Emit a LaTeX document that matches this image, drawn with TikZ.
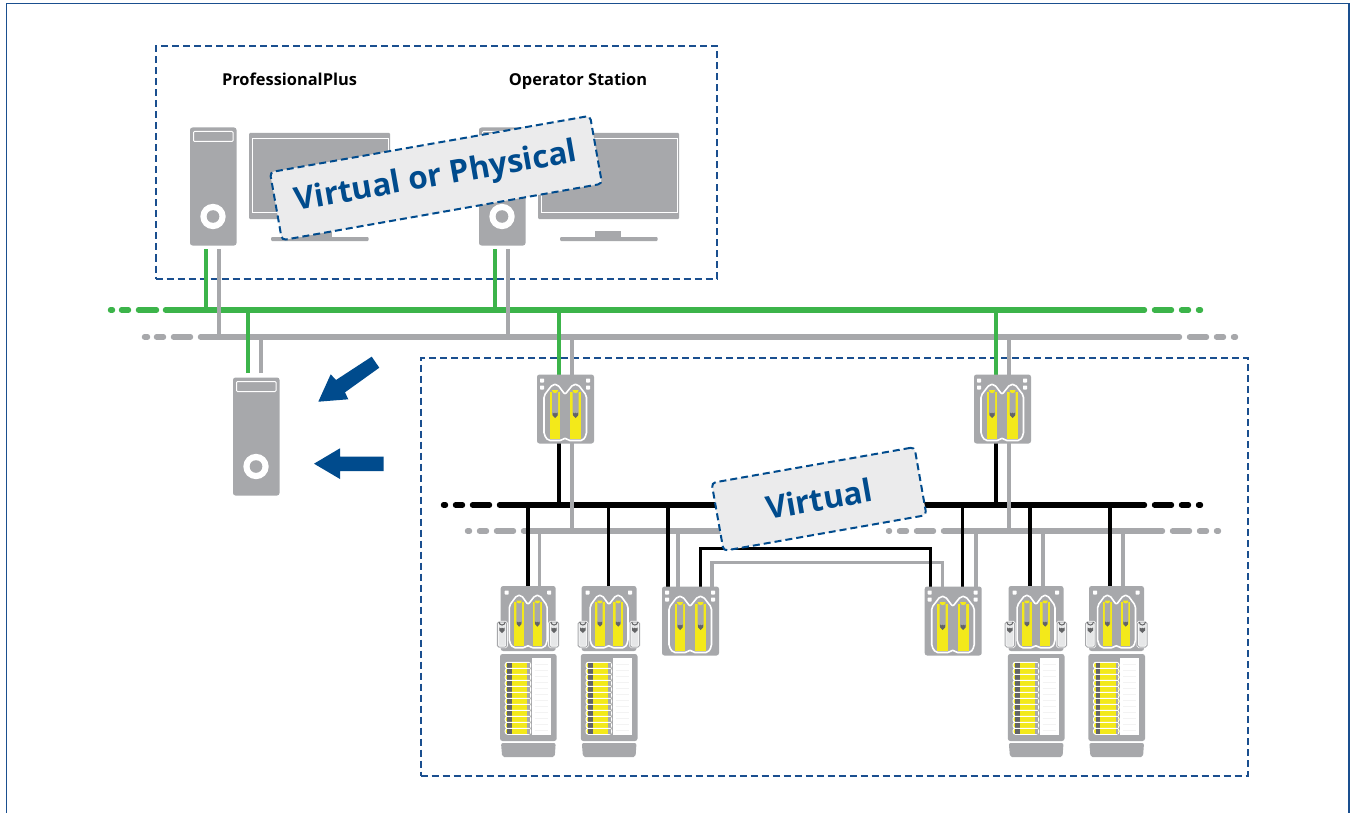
\documentclass[tikz,border=0pt]{standalone}
\usepackage{fontspec}
\setmainfont{Open Sans}
\definecolor{cgrey}{HTML}{A7A8AB}
\definecolor{cgreen}{HTML}{3CB44A}
\definecolor{cyell}{HTML}{F3E91A}
\definecolor{cblue}{HTML}{004B8D}
\definecolor{cframe}{HTML}{1A4F8F}
\definecolor{clabel}{HTML}{EBEBEC}
\definecolor{cdark}{HTML}{636466}
\definecolor{cpale}{HTML}{E6E7E8}
\definecolor{cfaint}{HTML}{F3F3F3}
\newcommand{\mypods}{%
  \draw[white,fill=cgrey,line width=1.6pt,line join=round,rounded corners=2pt]
    (11,66)--(7,60)--(7,21)--(15.5,10)--(20.5,10)--(28,20)--(36,10)--(41,10)--(49.5,21)--(49.5,60)--(46,66)--(31,66)--(28,63)--(25,66)--cycle;
  \foreach \c in {18,38.5}{
    \fill[cyell] (\c-5.3,17)--(\c+5.3,17)--(\c+5.3,64)--(\c-5.3,64)--cycle;
    \fill[cgrey] (\c-3,17)--(\c+3,17)--(\c+3,40)--(\c,43)--(\c-3,40)--cycle;
    \fill[cdark] (\c-2.5,38)--(\c-1,39)--(\c,38.2)--(\c+1,39)--(\c+2.5,38)--(\c+2.5,41)--(\c,43.5)--(\c-2.5,41)--cycle;
    \fill[cyell] (\c-3,15.7) arc[start angle=180,end angle=0,radius=3];
  }%
}
\tikzset{
  x=1pt,y=-1pt,
  devbody/.style={fill=cgrey,rounded corners=2.5pt},
  greenbus/.style={cgreen,line width=5.4pt,line cap=round},
  greybus/.style={cgrey,line width=5.4pt,line cap=round},
  blackbus/.style={black,line width=5.4pt,line cap=round},
  greenline/.style={cgreen,line width=3.4pt},
  greyline/.style={cgrey,line width=3.4pt},
  blackline/.style={black,line width=3.4pt},
  dashbox/.style={cframe,line width=2pt,dash pattern=on 7pt off 4pt},
  tagbox/.style={draw=cblue,fill=clabel,line width=2pt,dash pattern=on 7pt off 4pt,rounded corners=4pt,rotate=10,inner sep=0pt,text=cblue,align=center},
  tagtext/.style={font=\fontsize{31.5}{36}\selectfont\bfseries},
  title/.style={font=\fontsize{16.4}{18}\selectfont\bfseries,text=black,inner sep=0pt,anchor=base},
  tower/.pic={
    \fill[devbody] (0,0) rectangle (46.5,118);
    \draw[white,line width=1pt,rounded corners=1pt] (3.5,4) rectangle (43,14);
    \fill[white] (23,89) circle[radius=12.7];
    \fill[cgrey] (23,89) circle[radius=6.3];
  },
  monitor/.pic={
    \fill[cgrey,rounded corners=1pt] (0,0) rectangle (141,86);
    \draw[white,line width=1pt] (3.5,6) rectangle (139,79);
    \fill[cgrey] (57,98) rectangle (83,104);
    \fill[cgrey,rounded corners=1pt] (22,104) rectangle (119.5,108);
  },
  plaincarrier/.pic={
    \fill[devbody] (0,0) rectangle (57,69);
    \foreach \p in {5,51}\foreach \q in {6,13}
      \fill[white,rounded corners=.6pt] (\p-2,\q-2) rectangle (\p+2,\q+2);
    \mypods
  },
  iostack/.pic={
    \fill[devbody] (0,0) rectangle (55,65);
    \foreach \p in {6,48.5}
      \fill[white,rounded corners=.6pt] (\p-2,4.5) rectangle (\p+2,8.5);
    \begin{scope}[shift={(2.4,0)},xscale=.89,yscale=.935] \mypods \end{scope}
    \foreach \p in {-3.3,48.7}{
      \draw[white,fill=cpale,line width=2.4pt,rounded corners=1.5pt] (\p,36) rectangle (\p+9.3,61);
      \draw[cgrey,line width=1pt,rounded corners=1.5pt] (\p,36) rectangle (\p+9.3,61);
      \draw[cdark,line width=1pt] (\p+1.6,36) arc[start angle=180,end angle=0,radius=3.05];
      \fill[cdark] (\p+2,41.5)--(\p+3.5,42.5)--(\p+4.6,41.7)--(\p+5.7,42.5)--(\p+7.3,41.5)--(\p+7.3,44.5)--(\p+4.6,47)--(\p+2,44.5)--cycle;
    }
    \fill[devbody] (-.7,68) rectangle (56,155);
    \fill[white] (31.3,72) rectangle (50.3,149);
    \foreach \n in {0,...,11}{
      \draw[white,fill=cyell,line width=1pt,rounded corners=2.4pt] (4.5,76.3+\n*6) rectangle (30,82.3+\n*6);
      \fill[cdark] (6.6,77+\n*6) rectangle (11,81.7+\n*6);
      \fill[cyell] (11,77+\n*6) rectangle (26.5,81.7+\n*6);
      \fill[cgrey] (26.5,77+\n*6) rectangle (29.4,81.7+\n*6);
      \draw[cfaint,line width=.5pt] (34,78+\n*6) -- (47,78+\n*6);
    }
    \fill[cgrey,rounded corners=2pt] (.3,157)--(55,157)--(54,171)--(1.5,171)--cycle;
  }
}
\begin{document}
\begin{tikzpicture}
\useasboundingbox (0,0) rectangle (1351,813);
\clip (0,0) rectangle (1351,813);
\fill[white] (0,0) rectangle (1351,813);
\draw[cframe,line width=1.5pt] (6.5,840) -- (6.5,3.5) -- (1349,3.5) -- (1349,840);
% bus reference coordinates
\coordinate (gbus) at (0,310);
\coordinate (kbus) at (0,337);
\coordinate (bbus) at (0,505);
\coordinate (lbus) at (0,531);
% dashed frames
\node[dashbox,draw,inner sep=0pt,minimum width=561pt,minimum height=232pt,anchor=north west] (frameA) at (154.5,45.5) {};
\node[dashbox,draw,inner sep=0pt,minimum width=827pt,minimum height=418pt,anchor=north west] (frameB) at (419.5,356.5) {};
% buses
\foreach \a/\b in {110.5/112.5,121.5/128.5,138.5/156.5,165.5/1144.5,1154.5/1171.5,1181.5/1188.5,1198.5/1200.5}
  \draw[greenbus] (\a,310) -- (\b,310);
\foreach \a/\b in {144.5/147.5,156.5/163.5,173.5/190.5,200.5/1179.5,1189.5/1206.5,1216.5/1223.5,1233.5/1235.5}
  \draw[greybus] (\a,337) -- (\b,337);
\foreach \a/\b in {443.5/445.5,455.5/462.5,472.5/489.5,499.5/1144.5,1154.5/1171.5,1181.5/1188.5,1198.5/1200.5}
  \draw[blackbus] (\a,505) -- (\b,505);
\foreach \a/\b in {467.5/469.5,479.5/486.5,496.5/513.5,523.5/760,888.5/889.5,899.5/906.5,916.5/933.5,943.5/1162.5,1172.5/1189.5,1199.5/1206.5,1216.5/1218.5}
  \draw[greybus] (\a,531) -- (\b,531);
% ports
\coordinate (t1g) at (206,249); \coordinate (t1k) at (219,249);
\coordinate (t2g) at (495,249); \coordinate (t2k) at (508,249);
\coordinate (t3g) at (248,373); \coordinate (t3k) at (261,373);
\coordinate (ag) at (559,376); \coordinate (ak) at (572,376);
\coordinate (ab) at (559,442); \coordinate (al) at (572,442);
\coordinate (bg) at (996,376); \coordinate (bk) at (1009,376);
\coordinate (bb) at (996,442); \coordinate (bl) at (1009,442);
% PC connectors
\draw[greenline] (t1g) -- (t1g |- gbus);
\draw[greyline] (t1k) -- (t1k |- kbus);
\draw[greenline] (t2g) -- (t2g |- gbus);
\draw[greyline] (t2k) -- (t2k |- kbus);
\draw[greenline] (t3g) -- (t3g |- gbus);
\draw[greyline] (t3k) -- (t3k |- kbus);
% controller connectors
\draw[greyline] (ak) -- (ak |- kbus);
\draw[greenline] (ag) -- (ag |- gbus);
\draw[greyline] (bk) -- (bk |- kbus);
\draw[greenline] (bg) -- (bg |- gbus);
\draw[greyline] (al) -- (al |- lbus);
\draw[blackline] (ab) -- (ab |- bbus);
\draw[greyline] (bl) -- (bl |- lbus);
\draw[blackline] (bb) -- (bb |- bbus);
% field connectors
\foreach \x in {539.5,678,976,1043,1123}{
  \coordinate (p) at (\x,588);
  \draw[greyline] (p) -- (p |- lbus);
}
\foreach \x in {528,608.7,668,962.7,1030,1110}{
  \coordinate (p) at (\x,588);
  \draw[blackline] (p) -- (p |- bbus);
}
\coordinate (c1) at (712,588); \coordinate (d1) at (942.3,588); \coordinate (h1) at (0,562.7);
\draw[greyline] (c1) -- (c1 |- h1) -- (d1 |- h1) -- (d1);
\coordinate (c2) at (700.7,588); \coordinate (d2) at (930.7,588); \coordinate (h2) at (0,548.3);
\draw[blackline] (c2) -- (c2 |- h2) -- (d2 |- h2) -- (d2);
% PCs
\pic at (190,127.5) {tower};
\pic at (249,133) {monitor};
\pic at (479,127.5) {tower};
\pic at (538,133) {monitor};
\pic at (233,377.5) {tower};
% carriers
\pic at (537,374.5) {plaincarrier};
\pic at (974,374.5) {plaincarrier};
\pic at (662,586.5) {plaincarrier};
\pic at (924.7,586.5) {plaincarrier};
\pic at (500.7,586) {iostack};
\pic at (581.5,586) {iostack};
\pic at (1008.5,586) {iostack};
\pic at (1089,586) {iostack};
% arrows
\fill[cblue] (371.7,356.7)--(379.3,367.7)--(345,392.3)--(348.3,399.3)--(318.3,401.7)--(330.7,374.3)--(336,380)--cycle;
\fill[cblue] (314,463.7)--(340,448.3)--(340,456.7)--(383.5,456.7)--(383.5,471)--(340,471)--(340,479)--cycle;
% texts
\node[title] (tpp) at (289.5,85.5) {ProfessionalPlus};
\node[title] (tos) at (578,85.5) {Operator Station};
\node[tagbox,minimum width=325pt,minimum height=69pt] (tagA) at (436,178)
  {\raisebox{-2.5pt}{\fontsize{31.5}{36}\selectfont\bfseries Virtual or Physical}};
\node[tagbox,minimum width=206pt,minimum height=69pt] (tagB) at (819,499)
  {\raisebox{-1.5pt}{\fontsize{31.5}{36}\selectfont\bfseries Virtual}};
\end{tikzpicture}
\end{document}
